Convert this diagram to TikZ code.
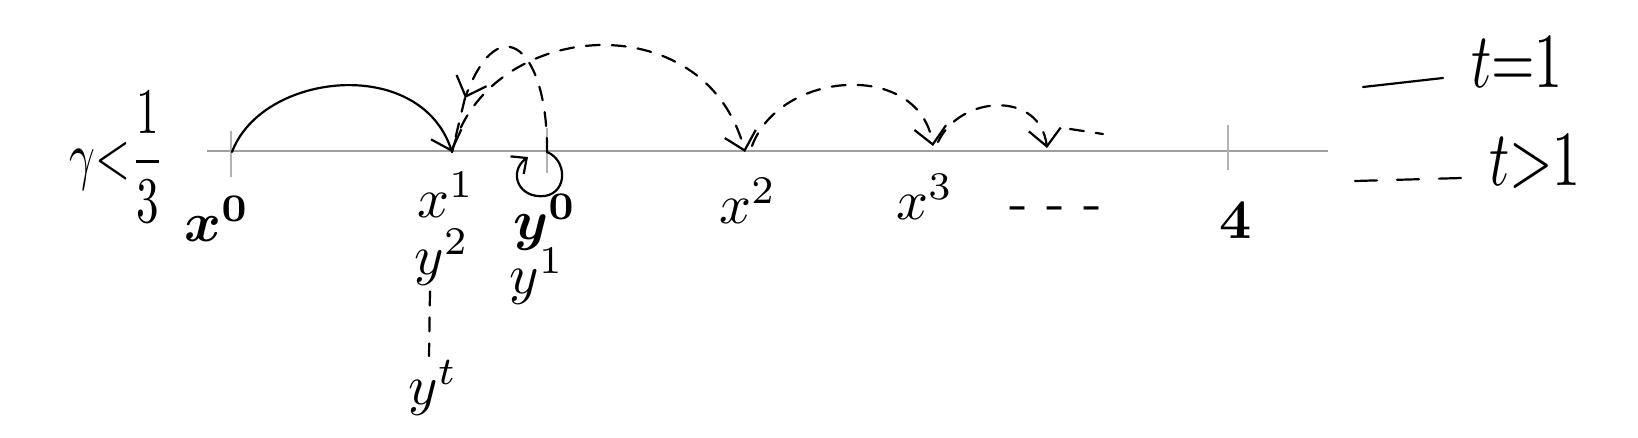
\documentclass[tikz,border=0pt]{standalone}
\usepackage{amsmath}
\usepackage{graphicx}
\usetikzlibrary{arrows.meta}
\newcommand{\hwr}[1]{\scalebox{5.6}{#1}}
\begin{document}
\begin{tikzpicture}[x=1pt,y=-1pt,
  ink/.style={line width=2.2pt, line cap=round, line join=round},
  hdash/.style={ink, dash pattern=on 14pt off 12pt},
  ldash/.style={ink, dash pattern=on 22pt off 20pt},
  tipv/.style={-{Straight Barb[length=17pt,width=32pt,line width=2.2pt]}},
  tips/.style={-{Straight Barb[length=12pt,width=22pt,line width=2.2pt]}},
  axisline/.style={gray!75, line width=1.8pt},
  tickm/.style={gray!60, line width=1.6pt},
  lab/.style={inner sep=0pt}]
\useasboundingbox (0,0) rectangle (1638,438);
% axis and ticks
\coordinate (a0) at (207,151);
\coordinate (a1) at (1328,151);
\draw[axisline] (a0) -- (a1);
\coordinate (t0a) at (231,131); \coordinate (t0b) at (231,177);
\coordinate (t1a) at (547,128); \coordinate (t1b) at (547,173);
\coordinate (t4a) at (1228,125); \coordinate (t4b) at (1228,170);
\draw[tickm] (t0a) -- (t0b);
\draw[tickm] (t1a) -- (t1b);
\draw[tickm] (t4a) -- (t4b);
% points
\coordinate (p0) at (232,152);
\coordinate (p1) at (452,152);
\coordinate (q0) at (547,152);
\coordinate (m) at (465,98);
\coordinate (p2) at (745,152);
\coordinate (p2s) at (752,146);
\coordinate (p3) at (933,146);
\coordinate (p3s) at (938,142);
\coordinate (p4) at (1047,148);
\coordinate (c0) at (1070,129);
\coordinate (c1) at (1103,134);
\coordinate (lp) at (528,157);
% arcs
\draw[ink,tipv] (p0) .. controls (262,72) and (420,55) .. (p1);
\draw[hdash,tipv] (q0) .. controls (548,50) and (500,5) .. (m);
\draw[hdash] (m) -- (p1);
\draw[hdash,tipv] (p1) .. controls (485,20) and (705,0) .. (p2);
\draw[hdash,tipv] (p2s) .. controls (780,70) and (920,60) .. (p3);
\draw[hdash,tipv] (p3s) .. controls (960,95) and (1040,90) .. (p4);
\draw[hdash] (c0) -- (c1);
\draw[ink,tips] (q0) .. controls (567,160) and (568,192) .. (545,196)
   .. controls (518,199) and (508,172) .. (lp);
% labels
\node[lab] (gam) at (117,157) {\scalebox{4.5}[6.5]{$\gamma{<}\dfrac{1}{3}$}};
\node[lab] (lx0) at (217,219) {\hwr{\boldmath$x^0$}};
\node[lab] (lx1) at (446,195) {\hwr{$x^1$}};
\node[lab] (ly2) at (442,257) {\hwr{$y^2$}};
\node[lab] (lyt) at (433,388) {\hwr{$y^t$}};
\draw[hdash] ([xshift=-12pt,yshift=-6pt]ly2.south) -- ([xshift=-4pt,yshift=4pt]lyt.north);
\node[lab] (ly0) at (545,222) {\hwr{\boldmath$y^0$}};
\node[lab] (ly1) at (537,276) {\hwr{$y^1$}};
\node[lab] (lx2) at (748,201) {\hwr{$x^2$}};
\node[lab] (lx3) at (925,197) {\hwr{$x^3$}};
\node[lab] (ldots) at (1056,214) {\hwr{- - -}};
\node[lab] (l4) at (1236,220) {\hwr{\boldmath$4$}};
% legend
\coordinate (s1) at (1363,87); \coordinate (s2) at (1443,78);
\draw[ink] (s1) -- (s2);
\node[lab] (leg1) at (1517,62) {\scalebox{5.6}[7.8]{$t{=}1$}};
\coordinate (d1) at (1355,181); \coordinate (d2) at (1462,178);
\draw[ldash] (d1) -- (d2);
\node[lab] (leg2) at (1535,162) {\scalebox{5.6}[7.8]{$t{>}1$}};
\end{tikzpicture}
\end{document}
